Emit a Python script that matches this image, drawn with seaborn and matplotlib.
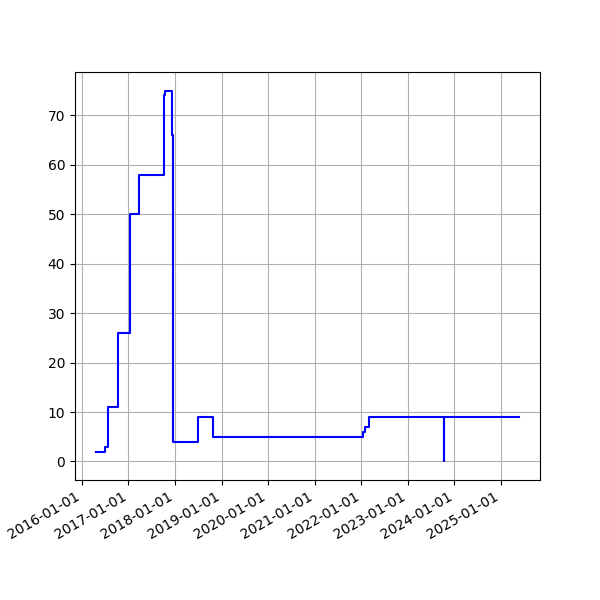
import matplotlib

matplotlib.use("Agg")
import matplotlib.dates as mdates
import matplotlib.pyplot as plt
import pandas as pd
import seaborn as sns

# change points of the series (value holds until the next date)
dates = [
    "2016-04-23",
    "2016-07-05",
    "2016-07-23",
    "2016-10-09",
    "2017-01-10",
    "2017-03-22",
    "2017-10-06",
    "2017-10-16",
    "2017-12-07",
    "2017-12-15",
    "2018-06-20",
    "2018-06-28",
    "2018-10-24",
    "2022-01-11",
    "2022-01-27",
    "2022-02-27",
    "2023-10-13",
    "2023-10-14",
    "2025-05-20",
]
values = [2, 3, 11, 26, 50, 58, 74, 75, 66, 4, 4, 9, 5, 6, 7, 9, 0, 9, 9]


def main():
    df = pd.DataFrame({"date": pd.to_datetime(dates), "value": values})

    fig, ax = plt.subplots(figsize=(6, 6), dpi=100)
    sns.lineplot(
        data=df,
        x="date",
        y="value",
        color="blue",
        linewidth=1.5,
        drawstyle="steps-post",
        ax=ax,
    )
    ax.set_xlabel("")
    ax.set_ylabel("")
    ax.grid(True)
    ax.xaxis.set_major_locator(mdates.YearLocator())
    ax.xaxis.set_major_formatter(mdates.DateFormatter("%Y-%m-%d"))
    fig.autofmt_xdate()

    fig.savefig("out.png", dpi=100)


if __name__ == "__main__":
    main()
